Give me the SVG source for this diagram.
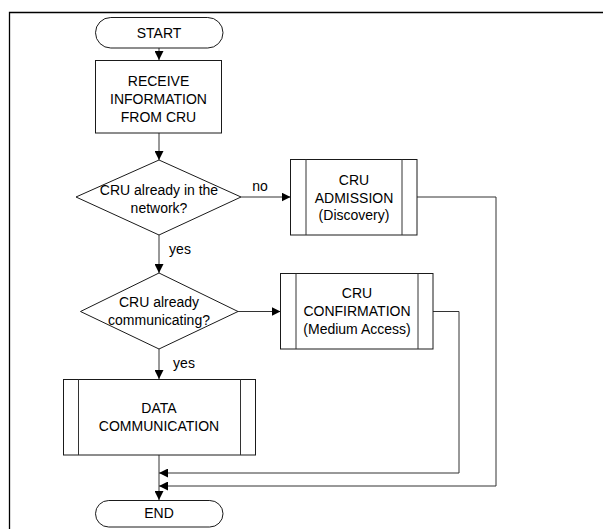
<svg xmlns="http://www.w3.org/2000/svg" width="603" height="529" viewBox="0 0 603 529">
<defs>
<marker id="ah" markerUnits="userSpaceOnUse" markerWidth="9" markerHeight="9" viewBox="0 0 9 9" refX="9" refY="4.5" orient="auto">
<path d="M0,0 L9,4.5 L0,9 Z" fill="#000"/>
</marker>
<style>
.s{fill:#fff;stroke:#1a1a1a;stroke-width:1}
.t{font-family:"Liberation Sans",Arial,sans-serif;font-size:14px;fill:#000;text-anchor:middle}
.c{fill:none;stroke:#333;stroke-width:1}
.a{fill:none;stroke:#333;stroke-width:1;marker-end:url(#ah)}
</style>
</defs>
<rect width="603" height="529" fill="#fff"/>
<path d="M9.5,529 L9.5,12.5 L603,12.5" fill="none" stroke="#000" stroke-width="1.3"/>

<g id="connectors">
<path class="a" d="M159,48 L159,60"/>
<path class="a" d="M159,133 L159,160"/>
<path class="a" d="M241,197 L290.5,197"/>
<path class="a" d="M159,235 L159,273"/>
<path class="a" d="M238,311.5 L280.5,311.5"/>
<path class="a" d="M159,349 L159,379"/>
<path class="c" d="M417,197 L496,197 L496,486"/>
<path class="a" d="M496,486 L159,486"/>
<path class="c" d="M433,311.5 L459,311.5 L459,473"/>
<path class="a" d="M459,473 L159,473"/>
<path class="a" d="M159,455 L159,500"/>
<text class="t" x="260" y="191">no</text>
<text class="t" x="180" y="254">yes</text>
<text class="t" x="184" y="368">yes</text>
</g>

<g id="start">
<rect class="s" x="95.5" y="17.5" width="127.5" height="30.5" rx="15.25"/>
<text class="t" x="159" y="37.5">START</text>
</g>

<g id="receive">
<rect class="s" x="95.5" y="60.5" width="126" height="72.5"/>
<text class="t" x="158.5" y="86">RECEIVE</text>
<text class="t" x="158.5" y="104">INFORMATION</text>
<text class="t" x="158.5" y="122">FROM CRU</text>
</g>

<g id="decision1">
<path class="s" d="M159,160 L241,197 L159,235 L76,197 Z"/>
<text class="t" x="159" y="195">CRU already in the</text>
<text class="t" x="159" y="213">network?</text>
</g>

<g id="admission">
<rect class="s" x="290.5" y="159.5" width="126.5" height="75.5"/>
<path class="c" d="M306,159.5 V235 M402,159.5 V235" stroke="#1a1a1a"/>
<text class="t" x="354" y="185">CRU</text>
<text class="t" x="354" y="203">ADMISSION</text>
<text class="t" x="354" y="220">(Discovery)</text>
</g>

<g id="decision2">
<path class="s" d="M159,273 L238,311.5 L159,349 L80.5,311.5 Z"/>
<text class="t" x="159" y="307">CRU already</text>
<text class="t" x="159" y="325">communicating?</text>
</g>

<g id="confirmation">
<rect class="s" x="280.5" y="273.5" width="152.5" height="75.5"/>
<path class="c" d="M296,273.5 V349 M418,273.5 V349" stroke="#1a1a1a"/>
<text class="t" x="357" y="298">CRU</text>
<text class="t" x="357" y="316">CONFIRMATION</text>
<text class="t" x="357" y="334">(Medium Access)</text>
</g>

<g id="data">
<rect class="s" x="63.5" y="379.5" width="192" height="75.5"/>
<path class="c" d="M78.5,379.5 V455 M240.5,379.5 V455" stroke="#1a1a1a"/>
<text class="t" x="159" y="413">DATA</text>
<text class="t" x="159" y="431">COMMUNICATION</text>
</g>

<g id="end">
<rect class="s" x="95.5" y="500.5" width="127.5" height="26.5" rx="13.25"/>
<text class="t" x="159" y="518">END</text>
</g>
</svg>
